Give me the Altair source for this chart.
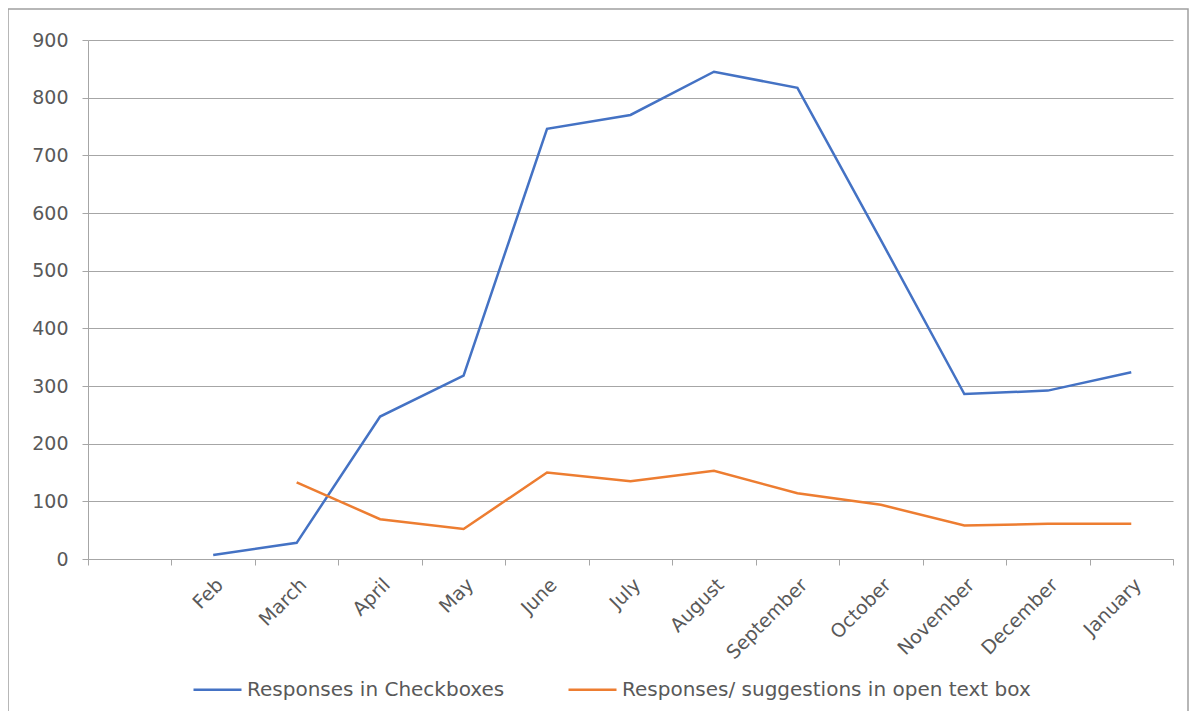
import altair as alt
import pandas as pd

months = ["", "Feb", "March", "April", "May", "June", "July", "August",
          "September", "October", "November", "December", "January"]
series_names = ["Responses in Checkboxes", "Responses/ suggestions in open text box"]

checkbox_months = ["Feb", "March", "April", "May", "June", "July", "August",
                   "September", "October", "November", "December", "January"]
checkbox_values = [7, 28, 247, 318, 746, 770, 845, 817, 553, 286, 292, 324]

text_months = ["March", "April", "May", "June", "July", "August",
               "September", "October", "November", "December", "January"]
text_values = [133, 69, 52, 150, 135, 153, 114, 94, 58, 61, 61]

rows = []
for i, (m, v) in enumerate(zip(checkbox_months, checkbox_values)):
    rows.append({"month": m, "value": v, "series": series_names[0], "order": i})
for i, (m, v) in enumerate(zip(text_months, text_values)):
    rows.append({"month": m, "value": v, "series": series_names[1], "order": i})
df = pd.DataFrame(rows)

FONT = "DejaVu Sans"
TXT = "#595959"
GRID = "#a6a6a6"
FS = 19

W, H = 1085, 519

lines = alt.Chart(df).mark_line(strokeWidth=2.5, clip=False).encode(
    x=alt.X("month:N", sort=months,
            scale=alt.Scale(domain=months, paddingInner=0, paddingOuter=0),
            axis=alt.Axis(title=None, labelAngle=-45, tickBand="extent",
                          labelFont=FONT, labelFontSize=FS, labelColor=TXT,
                          domainColor=GRID, tickColor=GRID, tickSize=6,
                          labelPadding=10, grid=False)),
    y=alt.Y("value:Q", scale=alt.Scale(domain=[0, 900], nice=False),
            axis=alt.Axis(title=None, values=list(range(0, 901, 100)),
                          labelFont=FONT, labelFontSize=FS, labelColor=TXT,
                          domainColor=GRID, tickColor=GRID, tickSize=6,
                          gridColor=GRID, gridWidth=1, labelPadding=14)),
    color=alt.Color("series:N",
                    scale=alt.Scale(domain=series_names, range=["#4472C4", "#ED7D31"]),
                    legend=alt.Legend(title=None, orient="none", direction="horizontal",
                                      legendX=104, legendY=624,
                                      symbolType="stroke", symbolSize=2304,
                                      symbolStrokeWidth=2.5, labelFont=FONT,
                                      labelFontSize=20, labelColor=TXT,
                                      labelLimit=700, columnPadding=58,
                                      labelOffset=4)),
    order="order:Q",
)

frame = alt.Chart(pd.DataFrame({"a": [0]})).mark_rect(
    fill=None, stroke="#a0a0a0", strokeWidth=1.5, clip=False
).encode(
    x=alt.value(-80), x2=alt.value(1100), y=alt.value(-31), y2=alt.value(700)
)

chart = alt.layer(frame, lines).properties(
    width=W, height=H,
    autosize=alt.AutoSizeParams(type="none"),
    padding={"left": 80, "top": 32, "right": 17, "bottom": 152},
).configure_view(stroke=None)

chart.save("out.html", embed_options={"renderer": "svg", "actions": False})
